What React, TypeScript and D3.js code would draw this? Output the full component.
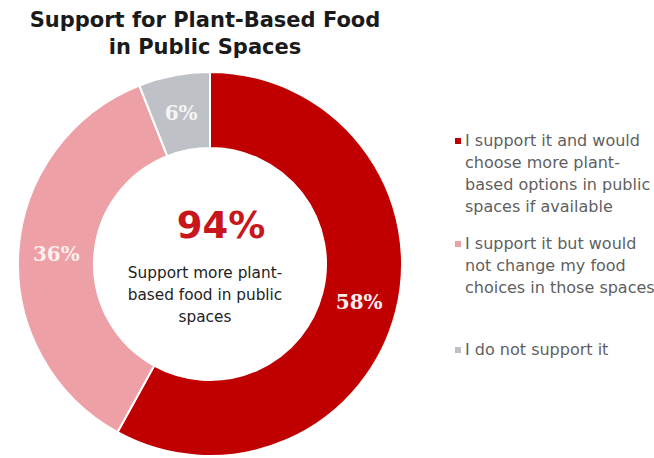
import React from "react";
import * as d3 from "d3";

const categories = [
  "I support it and would choose more plant-based options in public spaces if available",
  "I support it but would not change my food choices in those spaces",
  "I do not support it",
];
const values = [58, 36, 6];
const valueLabels = ["58%", "36%", "6%"];
const legendLines = [
  ["I support it and would", "choose more plant-", "based options in public", "spaces if available"],
  ["I support it but would", "not change my food", "choices in those spaces"],
  ["I do not support it"],
];
const titleLines = ["Support for Plant-Based Food", "in Public Spaces"];
const centerValue = "94%";
const centerLines = ["Support more plant-", "based food in public", "spaces"];
const colors = ["#C00000", "#EDA1A6", "#BEC2C7"];

export default function App() {
  const W = 654, H = 458;
  const cx = 210, cy = 264, R = 192, r = 116;
  const pie = d3.pie<number>().value((d) => d).sort(null);
  const arcs = pie(values);
  const arc = d3.arc<d3.PieArcDatum<number>>().innerRadius(r).outerRadius(R);
  const labelArc = d3.arc<d3.PieArcDatum<number>>().innerRadius(154).outerRadius(154);
  const legendStarts = [146, 249, 355];
  const lineH = 22;
  return (
    <svg width={W} height={H} style={{ position: "absolute", left: 0, top: 0, background: "#fff" }}>
      <rect width={W} height={H} fill="#fff" />
      {titleLines.map((t, i) => (
        <text key={i} x={205} y={27 + i * 27} textAnchor="middle" fontFamily="DejaVu Sans" fontWeight="bold" fontSize={21} fill="#1a1a1a">
          {t}
        </text>
      ))}
      <g transform={`translate(${cx},${cy})`}>
        {arcs.map((a, i) => (
          <path key={i} d={arc(a) || ""} fill={colors[i]} stroke="#fff" strokeWidth={2} />
        ))}
        {arcs.map((a, i) => {
          const [x, y] = labelArc.centroid(a);
          return (
            <text key={i} x={x} y={y} dy="0.35em" textAnchor="middle" fontFamily="DejaVu Serif" fontWeight="bold" fontSize={20} fill={i === 2 ? "#f4f4f4" : "#fbeeee"}>
              {valueLabels[i]}
            </text>
          );
        })}
      </g>
      <text x={221} y={238} textAnchor="middle" fontFamily="DejaVu Sans" fontWeight="bold" fontSize={37} fill="#C8161D">
        {centerValue}
      </text>
      {centerLines.map((t, i) => (
        <text key={i} x={205} y={278 + i * 22} textAnchor="middle" fontFamily="DejaVu Sans" fontSize={15.3} fill="#222">
          {t}
        </text>
      ))}
      {legendLines.map((lines, gi) => (
        <g key={gi}>
          <rect x={455} y={legendStarts[gi] - 8} width={6} height={6} fill={colors[gi]} />
          {lines.map((t, li) => (
            <text key={li} x={465} y={legendStarts[gi] + li * lineH} fontFamily="DejaVu Sans" fontSize={16} fill="#5f5f5f">
              {t}
            </text>
          ))}
        </g>
      ))}
    </svg>
  );
}
